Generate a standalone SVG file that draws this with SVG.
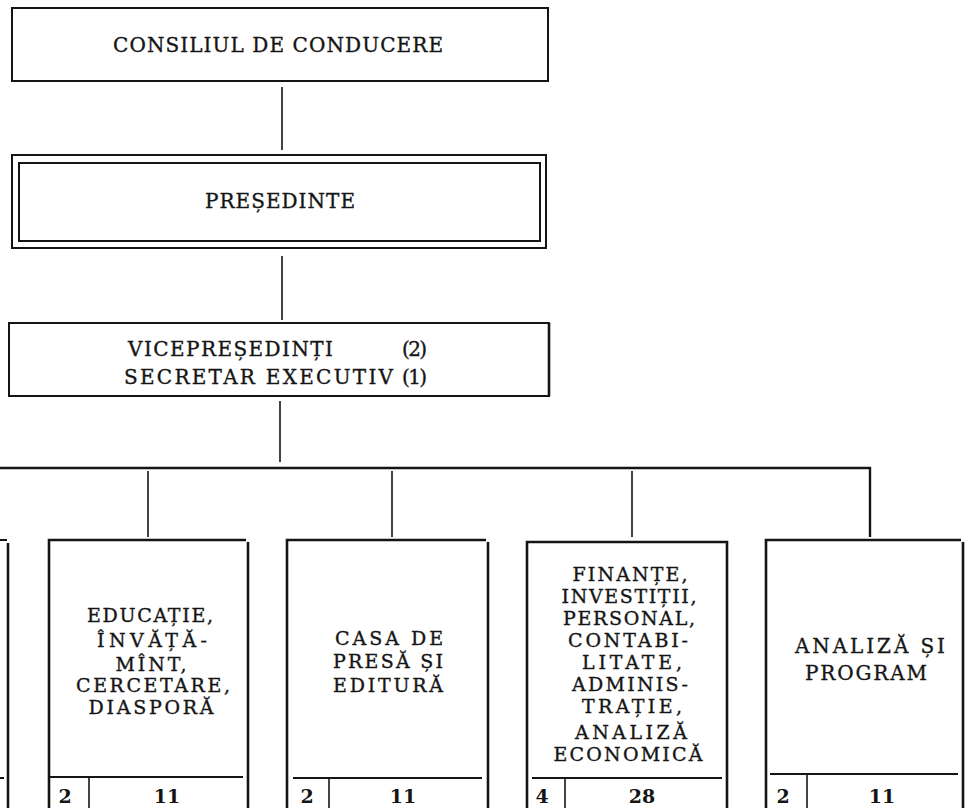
<svg xmlns="http://www.w3.org/2000/svg" width="972" height="808" viewBox="0 0 972 808">
<style>
.t{font-family:"DejaVu Serif","Liberation Serif",serif;font-size:20px;fill:#151515;stroke:#151515;stroke-width:0.35}
.s{font-size:19px}
.m{text-anchor:middle}
.n{font-family:"DejaVu Serif","Liberation Serif",serif;font-size:19px;font-weight:bold;fill:#151515;text-anchor:middle}
.b{fill:none;stroke:#151515;stroke-width:2}
.bt{fill:none;stroke:#151515;stroke-width:2.6}
.c{fill:none;stroke:#151515;stroke-width:1.6}
.bus{fill:none;stroke:#151515;stroke-width:2.4}
</style>
<rect width="972" height="808" fill="#fff"/>
<g id="connectors">
<line class="c" x1="282" y1="87" x2="282" y2="150"/>
<line class="c" x1="282" y1="256" x2="282" y2="320"/>
<line class="c" x1="280" y1="401" x2="280" y2="462"/>
<path class="bus" d="M0,468 H870 V537"/>
<line class="c" x1="148" y1="471" x2="148" y2="537"/>
<line class="c" x1="392" y1="471" x2="392" y2="537"/>
<line class="c" x1="632" y1="471" x2="632" y2="537"/>
</g>
<g id="consiliul">
<rect class="b" x="12" y="8" width="536" height="73"/>
<text class="t m" x="278" y="52" textLength="330" lengthAdjust="spacing">CONSILIUL DE CONDUCERE</text>
</g>
<g id="presedinte">
<rect class="b" x="12" y="155" width="534" height="93"/>
<rect class="b" x="19" y="163" width="521" height="78"/>
<text class="t m" x="280" y="208" textLength="150" lengthAdjust="spacing">PREȘEDINTE</text>
</g>
<g id="vicepresedinti">
<rect class="b" x="9" y="323" width="540" height="73"/>
<line class="bt" x1="549" y1="323" x2="549" y2="396"/>
<text class="t" x="128" y="356" textLength="205" lengthAdjust="spacing">VICEPREȘEDINȚI</text>
<text class="t" x="402" y="356" textLength="25" lengthAdjust="spacing">(2)</text>
<text class="t" x="124" y="384" textLength="269" lengthAdjust="spacing">SECRETAR EXECUTIV</text>
<text class="t" x="402" y="384" textLength="25" lengthAdjust="spacing">(1)</text>
</g>
<g id="box0">
<line class="bt" x1="8" y1="543" x2="8" y2="808"/>
<line class="b" x1="0" y1="540" x2="7" y2="540"/>
<line class="b" x1="0" y1="778" x2="4" y2="778"/>
</g>
<g id="educatie">
<path class="bt" d="M49,808 V540 H246 M248,542 V808"/>
<line class="b" x1="49" y1="777" x2="243" y2="777"/>
<line class="c" x1="89" y1="778" x2="89" y2="808"/>
<text class="t s m" x="150" y="622" textLength="126" lengthAdjust="spacing">EDUCAȚIE,</text>
<text class="t s m" x="152" y="647" textLength="110" lengthAdjust="spacing">ÎNVĂȚĂ-</text>
<text class="t s m" x="151" y="671" textLength="71" lengthAdjust="spacing">MÎNT,</text>
<text class="t s m" x="153" y="692" textLength="154" lengthAdjust="spacing">CERCETARE,</text>
<text class="t s m" x="151" y="714" textLength="125" lengthAdjust="spacing">DIASPORĂ</text>
<text class="n" x="65" y="803">2</text>
<text class="n" x="167" y="803">11</text>
</g>
<g id="casa">
<path class="bt" d="M287,808 V540 H486 M488,542 V808"/>
<line class="b" x1="293" y1="778" x2="482" y2="778"/>
<line class="c" x1="329" y1="778" x2="329" y2="808"/>
<text class="t s m" x="389" y="645" textLength="108" lengthAdjust="spacing">CASA DE</text>
<text class="t s m" x="388" y="668" textLength="110" lengthAdjust="spacing">PRESĂ ȘI</text>
<text class="t s m" x="388" y="692" textLength="110" lengthAdjust="spacing">EDITURĂ</text>
<text class="n" x="307" y="803">2</text>
<text class="n" x="403" y="803">11</text>
</g>
<g id="finante">
<path class="bt" d="M527,808 V542 H727 V808"/>
<line class="b" x1="532" y1="778" x2="722" y2="778"/>
<line class="c" x1="565" y1="778" x2="565" y2="808"/>
<text class="t s m" x="630" y="581" textLength="115" lengthAdjust="spacing">FINANȚE,</text>
<text class="t s m" x="629" y="603" textLength="135" lengthAdjust="spacing">INVESTIȚII,</text>
<text class="t s m" x="629" y="625" textLength="132" lengthAdjust="spacing">PERSONAL,</text>
<text class="t s m" x="628" y="647" textLength="120" lengthAdjust="spacing">CONTABI-</text>
<text class="t s m" x="632" y="669" textLength="100" lengthAdjust="spacing">LITATE,</text>
<text class="t s m" x="630" y="691" textLength="116" lengthAdjust="spacing">ADMINIS-</text>
<text class="t s m" x="632" y="713" textLength="100" lengthAdjust="spacing">TRAȚIE,</text>
<text class="t s m" x="631" y="739" textLength="112" lengthAdjust="spacing">ANALIZĂ</text>
<text class="t s m" x="628" y="761" textLength="149" lengthAdjust="spacing">ECONOMICĂ</text>
<text class="n" x="542" y="803">4</text>
<text class="n" x="642" y="803">28</text>
</g>
<g id="analiza">
<path class="bt" d="M766,808 V540 H961 M963,542 V808"/>
<line class="b" x1="770" y1="774" x2="958" y2="774"/>
<line class="c" x1="807" y1="775" x2="807" y2="808"/>
<text class="t m" x="870" y="653" textLength="150" lengthAdjust="spacing">ANALIZĂ ȘI</text>
<text class="t m" x="866" y="680" textLength="122" lengthAdjust="spacing">PROGRAM</text>
<text class="n" x="783" y="803">2</text>
<text class="n" x="882" y="803">11</text>
</g>
</svg>
